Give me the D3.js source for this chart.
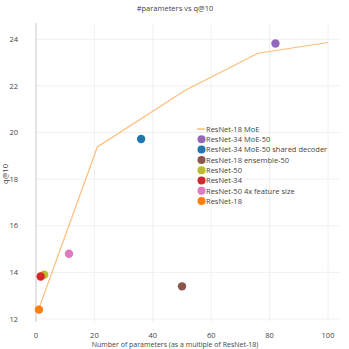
<!DOCTYPE html>
<html>
<head>
<meta charset="utf-8">
<script src="https://cdn.jsdelivr.net/npm/d3@7"></script>
<style>
  body { margin: 0; background: #fff; }
  text { font-family: "Open Sans", sans-serif; fill: #444; }
</style>
</head>
<body>
<div id="chart"></div>
<script>
// ResNet-18 MoE curve
const moeParams = [1, 21, 51, 76, 100];
const moeScores = [12.45, 19.38, 21.8, 23.4, 23.86];

// single models (scatter)
const pointNames = ['ResNet-34 MoE-50', 'ResNet-34 MoE-50 shared decoder', 'ResNet-18 ensemble-50',
    'ResNet-50', 'ResNet-34', 'ResNet-50 4x feature size', 'ResNet-18'];
const pointParams = [82, 36, 50, 2.8, 1.6, 11.3, 1.0];
const pointScores = [23.82, 19.72, 13.4, 13.9, 13.82, 14.8, 12.4];
const pointColors = ['#9467bd', '#1f77b4', '#8c564b', '#bcbd22', '#d62728', '#e377c2', '#ff7f0e'];

const xTicks = [0, 20, 40, 60, 80, 100];
const yTicks = [12, 14, 16, 18, 20, 22, 24];

const W = 349, H = 349;
const svg = d3.select('#chart').append('svg')
    .attr('width', W)
    .attr('height', H);

const xScale = d3.scaleLinear().domain([0, 104]).range([36, 339.7]);
const yScale = d3.scaleLinear().domain([11.87, 24.7]).range([322, 23]);

// grid
svg.append('g').selectAll('line').data(yTicks).join('line')
    .attr('x1', xScale.range()[0]).attr('x2', xScale.range()[1])
    .attr('y1', d => yScale(d)).attr('y2', d => yScale(d))
    .attr('stroke', '#f0f0f0').attr('stroke-width', 1);
svg.append('g').selectAll('line').data(xTicks.slice(1)).join('line')
    .attr('x1', d => xScale(d)).attr('x2', d => xScale(d))
    .attr('y1', yScale.range()[0]).attr('y2', yScale.range()[1])
    .attr('stroke', '#f0f0f0').attr('stroke-width', 1);

// zero line
svg.append('line')
    .attr('x1', xScale(0)).attr('x2', xScale(0))
    .attr('y1', yScale.range()[0]).attr('y2', yScale.range()[1])
    .attr('stroke', '#c8c8c8').attr('stroke-width', 1);

// tick labels
svg.append('g').selectAll('text').data(xTicks).join('text')
    .attr('x', d => xScale(d)).attr('y', 338)
    .attr('text-anchor', 'middle')
    .attr('font-size', 7.5)
    .text(d => d);
svg.append('g').selectAll('text').data(yTicks).join('text')
    .attr('x', 18).attr('y', d => yScale(d) + 2.6)
    .attr('text-anchor', 'end')
    .attr('font-size', 7.5)
    .text(d => d);

// titles
svg.append('text')
    .attr('x', 175).attr('y', 11)
    .attr('text-anchor', 'middle')
    .attr('font-size', 7.5)
    .text('#parameters vs q@10');
svg.append('text')
    .attr('x', 175).attr('y', 347)
    .attr('text-anchor', 'middle')
    .attr('font-size', 7)
    .text('Number of parameters (as a multiple of ResNet-18)');
svg.append('text')
    .attr('transform', 'translate(8, 174) rotate(-90)')
    .attr('text-anchor', 'middle')
    .attr('font-size', 7.5)
    .text('q@10');

// MoE line
const line = d3.line()
    .x((d, i) => xScale(moeParams[i]))
    .y(d => yScale(d));
svg.append('path')
    .attr('d', line(moeScores))
    .attr('fill', 'none')
    .attr('stroke', '#ffbb78')
    .attr('stroke-width', 1.1);

// points
svg.append('g').selectAll('circle').data(pointNames).join('circle')
    .attr('cx', (d, i) => xScale(pointParams[i]))
    .attr('cy', (d, i) => yScale(pointScores[i]))
    .attr('r', 4.2)
    .attr('fill', (d, i) => pointColors[i]);

// legend
const legend = svg.append('g').attr('transform', 'translate(197, 129)');
const rowH = 10.3;
legend.append('line')
    .attr('x1', 0).attr('x2', 8)
    .attr('y1', 0).attr('y2', 0)
    .attr('stroke', '#ffbb78').attr('stroke-width', 1.5);
legend.append('text')
    .attr('x', 9).attr('y', 2.8)
    .attr('font-size', 7.5)
    .text('ResNet-18 MoE');
const rows = legend.selectAll('g.row').data(pointNames).join('g')
    .attr('class', 'row')
    .attr('transform', (d, i) => `translate(0, ${(i + 1) * rowH})`);
rows.append('circle')
    .attr('cx', 4.5).attr('cy', 0).attr('r', 4)
    .attr('fill', (d, i) => pointColors[i]);
rows.append('text')
    .attr('x', 9).attr('y', 2.7)
    .attr('font-size', 7.5)
    .text(d => d);
</script>
</body>
</html>
